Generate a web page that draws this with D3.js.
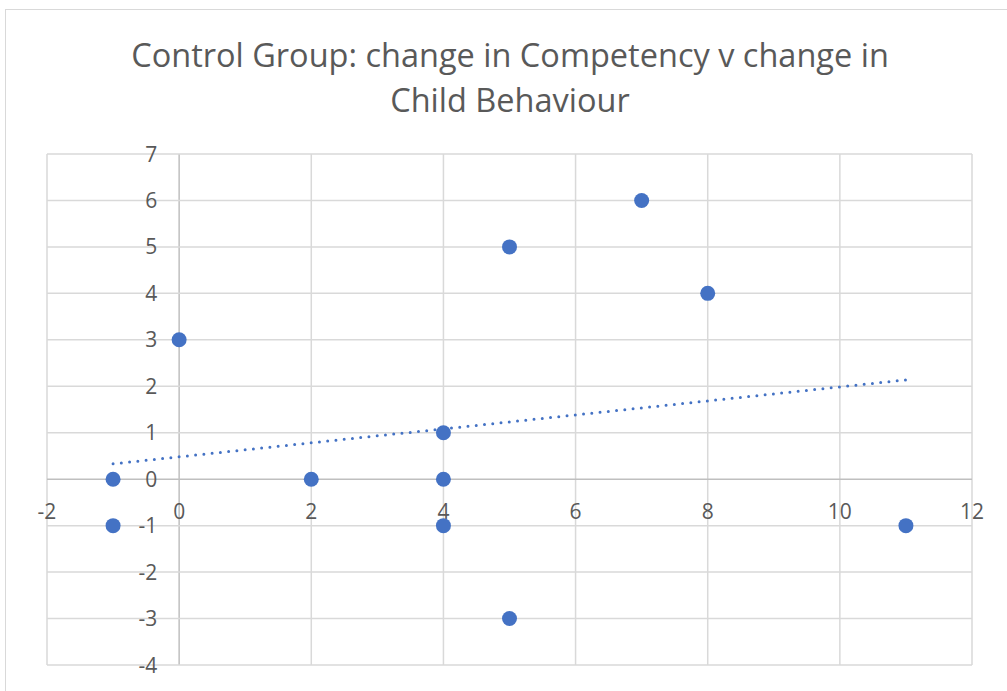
<!DOCTYPE html>
<html>
<head>
<meta charset="utf-8">
<script src="https://cdn.jsdelivr.net/npm/d3@7"></script>
<style>
  body { margin: 0; background: #fff; }
  text { font-family: "Open Sans", Lato, sans-serif; }
</style>
</head>
<body>
<div id="chart"></div>
<script>
const titleLines = ['Control Group: change in Competency v change in', 'Child Behaviour'];
const competency = [-1, -1, 0, 2, 4, 4, 4, 5, 5, 7, 8, 11];
const behaviour = [0, -1, 3, 0, 1, 0, -1, 5, -3, 6, 4, -1];
const xTicks = [-2, 0, 2, 4, 6, 8, 10, 12];
const yTicks = [-4, -3, -2, -1, 0, 1, 2, 3, 4, 5, 6, 7];

const width = 1007, height = 691;
const margin = { top: 154, right: 35, bottom: 26, left: 47 };

const svg = d3.select('#chart')
    .append('svg')
    .attr('width', width)
    .attr('height', height);

// chart frame
svg.append('rect')
    .attr('x', 5.5).attr('y', 9.5)
    .attr('width', 1010).attr('height', 700)
    .attr('fill', '#fff')
    .attr('stroke', '#d9d9d9');

const xScale = d3.scaleLinear().domain([-2, 12]).range([margin.left, width - margin.right]);
const yScale = d3.scaleLinear().domain([-4, 7]).range([height - margin.bottom, margin.top]);

// gridlines
svg.append('g')
    .selectAll('line')
    .data(xTicks)
    .enter()
    .append('line')
    .attr('x1', d => xScale(d)).attr('x2', d => xScale(d))
    .attr('y1', yScale(7)).attr('y2', yScale(-4))
    .attr('stroke', d => d === 0 ? '#bfbfbf' : '#d9d9d9')
    .attr('stroke-width', 1.5);
svg.append('g')
    .selectAll('line')
    .data(yTicks)
    .enter()
    .append('line')
    .attr('x1', xScale(-2)).attr('x2', xScale(12))
    .attr('y1', d => yScale(d)).attr('y2', d => yScale(d))
    .attr('stroke', d => d === 0 ? '#bfbfbf' : '#d9d9d9')
    .attr('stroke-width', 1.5);

// tick labels
svg.append('g')
    .selectAll('text')
    .data(yTicks)
    .enter()
    .append('text')
    .attr('x', xScale(0) - 22)
    .attr('y', d => yScale(d))
    .attr('dy', '0.36em')
    .attr('text-anchor', 'end')
    .attr('font-size', 21)
    .attr('fill', '#595959')
    .text(d => d);
svg.append('g')
    .selectAll('text')
    .data(xTicks)
    .enter()
    .append('text')
    .attr('x', d => xScale(d))
    .attr('y', yScale(0) + 40)
    .attr('text-anchor', 'middle')
    .attr('font-size', 21)
    .attr('fill', '#595959')
    .text(d => d);

// trendline (least squares)
const data = competency.map((c, i) => ({ x: c, y: behaviour[i] }));
const mx = d3.mean(data, d => d.x), my = d3.mean(data, d => d.y);
const slope = d3.sum(data, d => (d.x - mx) * (d.y - my)) / d3.sum(data, d => (d.x - mx) ** 2);
const intercept = my - slope * mx;
const [xMin, xMax] = d3.extent(competency);
svg.append('line')
    .attr('x1', xScale(xMin)).attr('y1', yScale(intercept + slope * xMin))
    .attr('x2', xScale(xMax)).attr('y2', yScale(intercept + slope * xMax))
    .attr('stroke', '#4472c4')
    .attr('stroke-width', 3)
    .attr('stroke-linecap', 'round')
    .attr('stroke-dasharray', '0 8.3');

// points
svg.append('g')
    .selectAll('circle')
    .data(data)
    .enter()
    .append('circle')
    .attr('cx', d => xScale(d.x))
    .attr('cy', d => yScale(d.y))
    .attr('r', 7.5)
    .attr('fill', '#4472c4');

// title
svg.append('text')
    .attr('x', 510)
    .attr('text-anchor', 'middle')
    .attr('font-size', 32.5)
    .attr('fill', '#595959')
    .selectAll('tspan')
    .data(titleLines)
    .enter()
    .append('tspan')
    .attr('x', 510)
    .attr('y', (d, i) => 67 + i * 45)
    .text(d => d);
</script>
</body>
</html>
